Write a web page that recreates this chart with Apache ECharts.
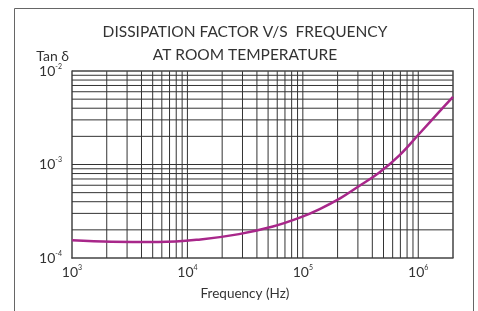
<!DOCTYPE html>
<html>
<head>
<meta charset="utf-8">
<script src="https://cdn.jsdelivr.net/npm/echarts@6/dist/echarts.min.js"></script>
<style>
  html, body { margin: 0; padding: 0; background: #fff; }
  #chart { width: 478px; height: 311px; }
</style>
</head>
<body>
<div id="chart"></div>
<script>
// frequency (Hz) and tan delta
const freq = [1e3, 2.2e3, 5.6e3, 1.3e4, 2.8e4, 5.5e4, 9.4e4, 1.4e5, 2.1e5, 3.1e5, 4.6e5, 6.9e5, 1.03e6, 1.53e6, 2e6];
const tanDelta = [1.545e-4, 1.49e-4, 1.48e-4, 1.58e-4, 1.80e-4, 2.17e-4, 2.7e-4, 3.34e-4, 4.34e-4, 5.92e-4, 8.2e-4, 1.26e-3, 2.16e-3, 3.7e-3, 5.3e-3];

// axis range
const xMin = 1e3, xMax = 2e6;
const yMin = 1e-4, yMax = 1e-2;

// graph paper lines
const xGrid = [2e3, 3e3, 4e3, 5e3, 6e3, 7e3, 8e3, 9e3, 1e4,
  2e4, 3e4, 4e4, 5e4, 6e4, 7e4, 8e4, 9e4, 1e5,
  2e5, 3e5, 4e5, 5e5, 6e5, 7e5, 8e5, 9e5, 1e6];
const yGrid = [2e-4, 3e-4, 4e-4, 5e-4, 6e-4, 7e-4, 8e-4, 9e-4, 1e-3,
  2e-3, 3e-3, 4e-3, 5e-3, 6e-3, 7e-3, 8e-3, 9e-3];

const titleLines = ['DISSIPATION FACTOR V/S  FREQUENCY', 'AT ROOM TEMPERATURE'];

const FONT = 'Lato';

function powLabel (v) {
  const e = Math.round(Math.log10(v));
  if (Math.abs(Math.log10(v) - e) > 1e-6) return '';
  return '{b|10}{s|' + e + '}';
}

const labelRich = {
  b: { fontSize: 14, fontFamily: FONT, color: '#333', lineHeight: 16 },
  s: { fontSize: 7, fontFamily: FONT, color: '#333', lineHeight: 16, verticalAlign: 'top', padding: [0, 0, 7, 0] }
};

const gridStyle = { stroke: '#333', lineWidth: 1 };

const myChart = echarts.init(document.getElementById('chart'), null, { renderer: 'canvas' });

const option = {
  animation: false,
  backgroundColor: '#fff',
  graphic: [
    {
      type: 'rect',
      shape: { x: 14.5, y: 8.5, width: 459, height: 400 },
      style: { fill: 'none', stroke: '#666', lineWidth: 1 },
      silent: true
    },
    {
      type: 'text',
      x: 245, y: 32,
      style: { text: titleLines[0], fontSize: 15.5, fontFamily: FONT, fill: '#333', align: 'center', verticalAlign: 'middle' }
    },
    {
      type: 'text',
      x: 245, y: 55,
      style: { text: titleLines[1], fontSize: 15.5, fontFamily: FONT, fill: '#333', align: 'center', verticalAlign: 'middle' }
    }
  ],
  grid: { left: 72, top: 71, width: 381, height: 187, show: false },
  xAxis: {
    type: 'log',
    logBase: 10,
    min: xMin,
    max: xMax,
    name: 'Frequency (Hz)',
    nameLocation: 'middle',
    nameGap: 29,
    nameTextStyle: { fontSize: 13.5, fontFamily: FONT, color: '#333', padding: [0, 35, 0, 0] },
    axisLine: { show: true, lineStyle: { color: '#444', width: 1.5 } },
    axisTick: { show: false },
    splitLine: { show: false },
    axisLabel: { formatter: powLabel, rich: labelRich, margin: 6 }
  },
  yAxis: {
    type: 'log',
    logBase: 10,
    min: yMin,
    max: yMax,
    name: 'Tan δ',
    nameLocation: 'end',
    nameGap: 8,
    nameTextStyle: { fontSize: 14, fontFamily: FONT, color: '#333', align: 'right', verticalAlign: 'bottom', padding: [0, 3, 0, 0] },
    axisLine: { show: true, lineStyle: { color: '#444', width: 1.5 } },
    axisTick: { show: false },
    splitLine: { show: false },
    axisLabel: { formatter: powLabel, rich: labelRich, margin: 10 }
  },
  series: [
    {
      // vertical grid lines
      type: 'custom',
      silent: true,
      z: 1,
      data: xGrid.map(v => [v, yMin]),
      renderItem: (params, api) => {
        const p1 = api.coord([api.value(0), yMin]);
        const p2 = api.coord([api.value(0), yMax]);
        return { type: 'line', shape: { x1: p1[0], y1: p1[1], x2: p2[0], y2: p2[1] }, style: gridStyle };
      }
    },
    {
      // horizontal grid lines
      type: 'custom',
      silent: true,
      z: 1,
      data: yGrid.map(v => [xMin, v]),
      renderItem: (params, api) => {
        const p1 = api.coord([xMin, api.value(1)]);
        const p2 = api.coord([xMax, api.value(1)]);
        return { type: 'line', shape: { x1: p1[0], y1: p1[1], x2: p2[0], y2: p2[1] }, style: gridStyle };
      }
    },
    {
      // right and top frame of the plot
      type: 'custom',
      silent: true,
      z: 1,
      data: [[xMax, yMax]],
      renderItem: (params, api) => {
        const a = api.coord([xMin, yMax]);
        const b = api.coord([xMax, yMax]);
        const c = api.coord([xMax, yMin]);
        return { type: 'polyline', shape: { points: [a, b, c] }, style: { stroke: '#444', lineWidth: 1.5, fill: 'none' } };
      }
    },
    {
      type: 'line',
      data: freq.map((f, i) => [f, tanDelta[i]]),
      smooth: 0.4,
      showSymbol: false,
      lineStyle: { color: '#a8278a', width: 2.5 },
      z: 3
    }
  ]
};

myChart.setOption(option);
</script>
</body>
</html>
